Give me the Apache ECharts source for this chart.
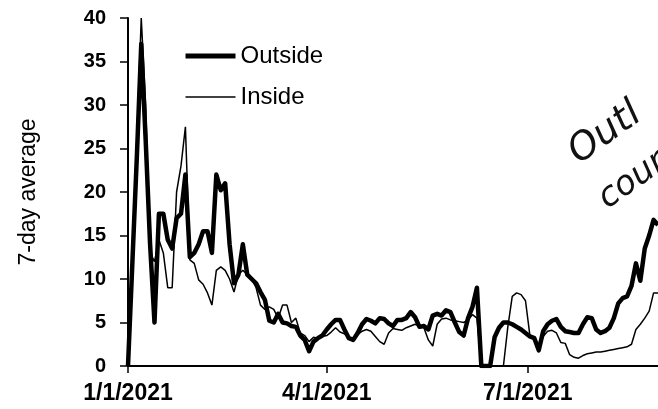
<!DOCTYPE html>
<html>
<head>
<meta charset="utf-8">
<script src="https://cdn.jsdelivr.net/npm/echarts@6/dist/echarts.min.js"></script>
<style>
html,body{margin:0;padding:0;background:#fff;}
#chart{width:658px;height:409px;}
</style>
</head>
<body>
<div id="chart"></div>
<script>
// x values: days since 1/1/2021
const days = [0,2,4,6,8,10,12,14,16,18,20,22,24,26,28,30,32,34,36,38,40,42,44,46,48,50,52,54,56,58,60,62,64,66,68,70,72,74,76,78,80,82,84,86,88,90,92,94,96,98,100,102,104,106,108,110,112,114,116,118,120,122,124,126,128,130,132,134,136,138,140,142,144,146,148,150,152,154,156,158,160,162,164,166,168,170,172,174,176,178,180,182,184,186,188,190,192,194,196,198,200,202,204,206,208,210,212,214,216,218,220,222,224,226,228,230,232,234,236,238,240];

const outside = [0,12,24,37,26,14,5,17.5,17.5,14.5,13.5,17,17.5,22,12.5,13,14,15.5,15.5,13,22,20.2,21,14,9.5,10.5,14,10.5,10,9.5,8.5,7.6,5.2,5,6,5,4.9,4.6,4.5,3.5,3,1.7,2.8,3.2,3.5,4.2,4.8,5.3,5.3,4.2,3.2,3,3.8,4.8,5.4,5.2,4.9,5.5,5.4,4.9,4.6,5.3,5.3,5.5,6.2,5.6,4.5,4.6,4.2,5.8,6,5.8,6.4,6.2,5,3.9,3.5,5.5,6.8,9,0,0,0,3.3,4.4,5,5,4.8,4.5,4.2,3.8,3.4,3.2,1.8,4,4.8,5.2,5.4,4.5,4,3.9,3.8,3.8,4.8,5.6,5.5,4.2,3.8,4,4.4,5.5,7.2,7.8,8,9.2,11.8,9.8,13.5,15,16.8,16.2];

const inside = [0,10,26,40,30,13,12,14.5,13,9,9,20,23,27.5,12.2,11.8,9.9,9.4,8.4,7,11,11.4,11,10,8.5,10.5,11,10.5,10,9,7,6.5,6.8,6.5,5.5,7,7,5,5.5,3.8,3.5,2.8,3.3,3.2,3.4,3.5,3.9,4.4,3.9,3.7,3.2,3,3.6,4,4.2,4,3.4,2.8,2.5,3.8,4.3,4.2,4.1,4.4,4.6,4.8,4.6,4.4,3,2.3,4.8,5.4,5.5,5.3,5.2,5.1,5,5.3,5.9,5.5,0,0,0,0,0,0,4.5,8,8.4,8.2,7.5,3.5,3,1.8,3.4,4,4.1,3.8,2.7,2.6,1.3,1,0.9,1.2,1.4,1.5,1.6,1.6,1.7,1.8,1.9,2,2.1,2.2,2.5,4.2,4.8,5.5,6.3,8.4,8.4];

const xTickDays = [0, 90, 181];
const xTickLabels = ['1/1/2021', '4/1/2021', '7/1/2021'];
const yTicks = [0,5,10,15,20,25,30,35,40];
const seriesNames = ['Outside', 'Inside'];
const noteLines = ['Outl', 'coun'];

const chart = echarts.init(document.getElementById('chart'), null, {renderer: 'canvas'});
const FONT = 'Liberation Sans, Arial, Helvetica, sans-serif';

chart.setOption({
  backgroundColor: '#fff',
  animation: false,
  grid: {left: 128, right: 0, top: 18, bottom: 43, containLabel: false},
  legend: {
    orient: 'vertical',
    left: 183,
    top: 44,
    padding: 0,
    itemWidth: 50,
    itemHeight: 14,
    itemGap: 17,
    itemStyle: {opacity: 0},
    textStyle: {fontFamily: FONT, fontSize: 24, color: '#000'},
    data: [
      {name: seriesNames[0], lineStyle: {width: 5, color: '#000'}},
      {name: seriesNames[1], lineStyle: {width: 1.5, color: '#000'}}
    ]
  },
  xAxis: {
    type: 'value',
    min: 0,
    max: 240,
    axisLine: {show: true, lineStyle: {color: '#000', width: 2}},
    axisTick: {show: true, length: 7, customValues: xTickDays, lineStyle: {color: '#000', width: 1.5}},
    axisLabel: {
      customValues: xTickDays,
      margin: 16,
      fontFamily: FONT, fontSize: 23, fontWeight: 'bold', color: '#000',
      formatter: function (v) { const i = xTickDays.indexOf(v); return i >= 0 ? xTickLabels[i] : ''; }
    },
    splitLine: {show: false}
  },
  yAxis: {
    type: 'value',
    min: 0, max: 40, interval: 5,
    name: '7-day average',
    nameLocation: 'middle',
    nameRotate: 90,
    nameGap: 88,
    nameTextStyle: {fontFamily: FONT, fontSize: 23, color: '#000'},
    axisLine: {show: true, lineStyle: {color: '#000', width: 2}},
    axisTick: {show: true, length: 8, lineStyle: {color: '#000', width: 1.5}},
    axisLabel: {margin: 22, fontFamily: FONT, fontSize: 20, fontWeight: 'bold', color: '#000',
      formatter: function (v) { return yTicks.indexOf(v) >= 0 ? String(v) : ''; }},
    splitLine: {show: false}
  },
  series: [
    {
      name: seriesNames[0], type: 'line', symbol: 'none', z: 2,
      lineStyle: {color: '#000', width: 4.5, join: 'round'},
      itemStyle: {color: '#000'},
      data: days.map((d, i) => [d, outside[i]])
    },
    {
      name: seriesNames[1], type: 'line', symbol: 'none', z: 3,
      lineStyle: {color: '#000', width: 1.5},
      itemStyle: {color: '#000'},
      data: days.map((d, i) => [d, inside[i]])
    }
  ],
  graphic: [
    {type: 'text', x: 584, y: 172, rotation: 0.62,
     style: {text: noteLines[0], font: 'italic 200 38px "DejaVu Sans ExtraLight", "DejaVu Sans", sans-serif', fill: '#111', align: 'left', verticalAlign: 'bottom'}},
    {type: 'text', x: 612, y: 216, rotation: 0.62,
     style: {text: noteLines[1], font: 'italic 200 34px "DejaVu Sans ExtraLight", "DejaVu Sans", sans-serif', fill: '#111', align: 'left', verticalAlign: 'bottom'}}
  ]
});
</script>
</body>
</html>
